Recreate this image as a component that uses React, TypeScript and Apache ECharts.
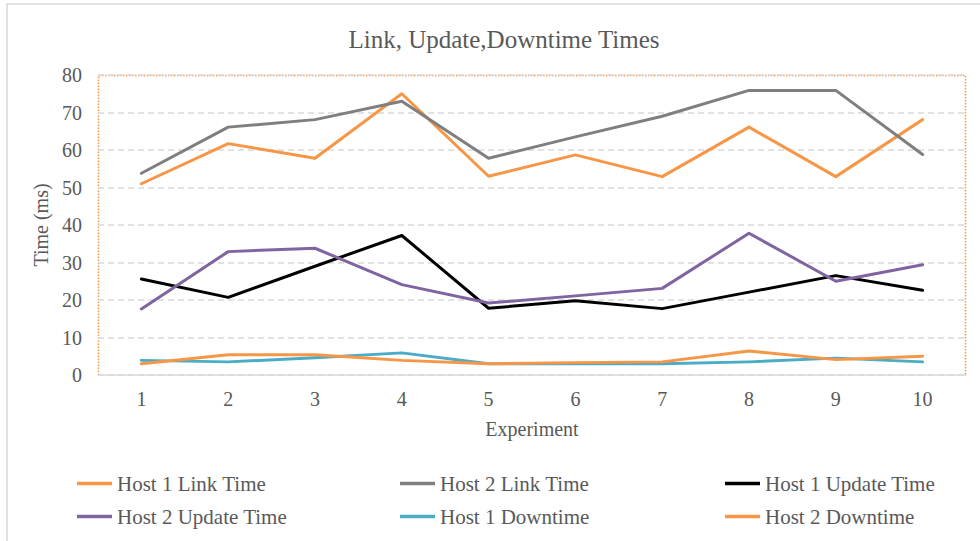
import React, { useEffect, useRef } from "react";
import * as echarts from "echarts";

const experiments = ["1", "2", "3", "4", "5", "6", "7", "8", "9", "10"];
const host1Link = [51, 61.7, 57.8, 75, 53, 58.7, 52.9, 66.1, 52.9, 68.1];
const host2Link = [53.8, 66.1, 68.1, 73, 57.8, 63.5, 69, 75.9, 75.9, 58.8];
const host1Update = [25.6, 20.7, 29, 37.2, 17.8, 19.8, 17.7, 22.1, 26.5, 22.6];
const host2Update = [17.6, 32.9, 33.8, 24.1, 19.2, 21.1, 23.1, 37.8, 25, 29.4];
const host1Down = [3.9, 3.5, 4.6, 5.9, 3.0, 3.0, 3.0, 3.5, 4.5, 3.5];
const host2Down = [3.0, 5.4, 5.4, 3.9, 3.0, 3.3, 3.5, 6.4, 4.1, 5.0];

const seriesNames = [
  "Host 1 Link Time",
  "Host 2 Link Time",
  "Host 1 Update Time",
  "Host 2 Update Time",
  "Host 1 Downtime",
  "Host 2 Downtime",
];
const seriesData = [host1Link, host2Link, host1Update, host2Update, host1Down, host2Down];
const seriesColors = ["#F79646", "#7F7F7F", "#000000", "#8064A2", "#4BACC6", "#F79646"];

const FONT = "Liberation Serif";
const TEXT = "#595959";

export default function App() {
  const ref = useRef<HTMLDivElement>(null);
  useEffect(() => {
    if (!ref.current) return;
    const chart = echarts.init(ref.current, undefined, { renderer: "svg" });
    const legendPos = [
      [77, 473],
      [400, 473],
      [725, 473],
      [77, 506],
      [400, 506],
      [725, 506],
    ];
    chart.setOption({
      animation: false,
      backgroundColor: "#ffffff",
      textStyle: { fontFamily: FONT },
      title: {
        text: "Link, Update,Downtime Times",
        left: 499,
        textAlign: "center",
        top: 22,
        textStyle: { fontFamily: FONT, fontSize: 25, fontWeight: "normal", color: TEXT },
      },
      legend: seriesNames.map((n, i) => ({
        data: [{ name: n, icon: "rect", itemStyle: { color: seriesColors[i], borderWidth: 0 } }],
        left: legendPos[i][0],
        top: legendPos[i][1],
        padding: 0,
        itemWidth: 35,
        itemHeight: 3.5,
        textStyle: { fontFamily: FONT, fontSize: 21, color: TEXT },
        selectedMode: false,
      })),
      grid: { left: 98, right: 14, top: 75, bottom: 166, containLabel: false },
      xAxis: {
        type: "category",
        data: experiments,
        boundaryGap: true,
        name: "Experiment",
        nameLocation: "middle",
        nameGap: 44,
        nameTextStyle: { fontFamily: FONT, fontSize: 20, color: TEXT },
        axisLine: { show: true, lineStyle: { color: "#D9D9D9", width: 1.5 } },
        axisTick: { show: false },
        axisLabel: { fontFamily: FONT, fontSize: 20, color: TEXT, margin: 14 },
      },
      yAxis: {
        type: "value",
        min: 0,
        max: 80,
        interval: 10,
        name: "Time (ms)",
        nameLocation: "middle",
        nameGap: 46,
        nameTextStyle: { fontFamily: FONT, fontSize: 20, color: TEXT },
        axisLine: { show: false },
        axisTick: { show: false },
        axisLabel: { fontFamily: FONT, fontSize: 20, color: TEXT, margin: 16 },
        splitLine: { show: true, lineStyle: { color: "#D9D9D9", width: 1.5, type: [6, 4] } },
      },
      graphic: [
        {
          type: "rect",
          shape: { x: 7, y: 4, width: 1000, height: 600 },
          style: { fill: "none", stroke: "#D9D9D9", lineWidth: 1.5 },
          silent: true,
          z: -10,
        },
        {
          type: "polyline",
          shape: { points: [[98.5, 375], [98.5, 75.5], [965.5, 75.5], [965.5, 375]] },
          style: { fill: "none", stroke: "#F79646", lineWidth: 1.5, lineDash: [1.5, 1.5] },
          silent: true,
          z: -5,
        },
      ],
      series: seriesNames.map((n, i) => ({
        name: n,
        type: "line",
        data: seriesData[i],
        symbol: "none",
        smooth: false,
        color: seriesColors[i],
        lineStyle: { width: 3, color: seriesColors[i], cap: "round", join: "round" },
      })),
    });
    return () => chart.dispose();
  }, []);
  return (
    <div
      ref={ref}
      style={{ position: "fixed", left: 0, top: 0, width: 980, height: 541, background: "#fff" }}
    />
  );
}
